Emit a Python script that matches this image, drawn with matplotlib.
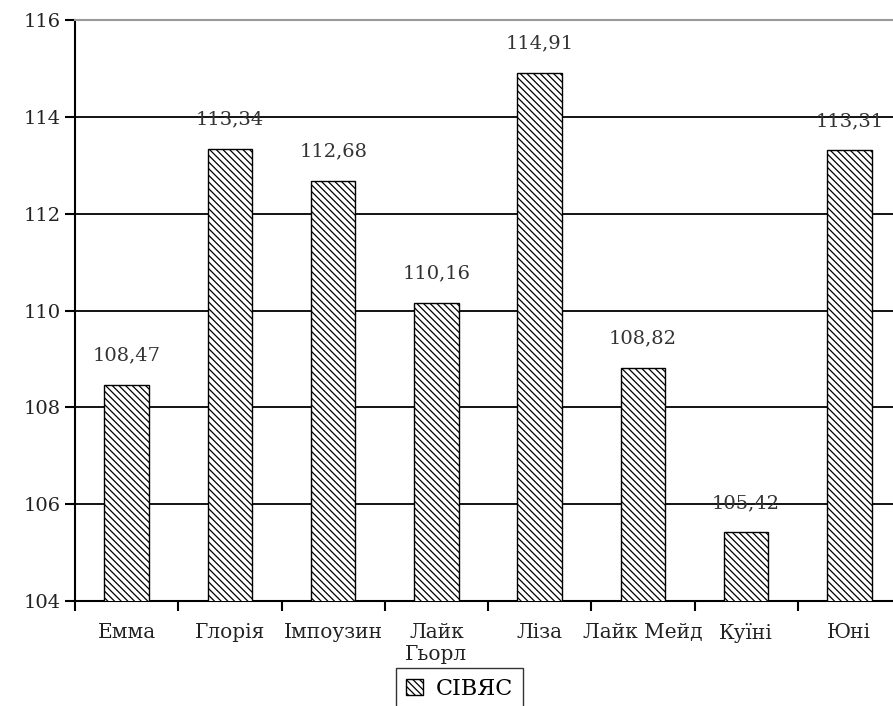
import matplotlib.pyplot as plt
import numpy as np

# chart data
categories = ["Емма", "Глорія", "Імпоузин", "Лайк\nГьорл", "Ліза",
              "Лайк Мейд", "Куїні", "Юні"]
values = [108.47, 113.34, 112.68, 110.16, 114.91, 108.82, 105.42, 113.31]
value_labels = ["108,47", "113,34", "112,68", "110,16", "114,91",
                "108,82", "105,42", "113,31"]
y_ticks = [104, 106, 108, 110, 112, 114, 116]
series_name = "СІВЯС"


def main():
    plt.rcParams['hatch.linewidth'] = 0.9
    fig = plt.figure(figsize=(8.93, 7.06), dpi=100)
    # axes runs past the right edge, as in the cropped original
    ax = fig.add_axes([75 / 893, 105 / 706, 826 / 893, 581 / 706])

    x = np.arange(len(categories))
    ax.bar(x, values, width=0.43, bottom=0, color='white',
           edgecolor='black', hatch='\\\\\\\\\\', linewidth=1.0,
           label=series_name, zorder=3)

    for xi, v, lab in zip(x, values, value_labels):
        ax.annotate(lab, (xi, v), xytext=(0, 21), textcoords='offset points',
                    ha='center', va='center', fontsize=14,
                    family='DejaVu Serif', color='#333333', zorder=4)

    ax.set_ylim(104, 116)
    ax.set_xlim(-0.5, len(categories) - 0.5)
    ax.set_yticks(y_ticks)
    ax.set_yticklabels([str(t) for t in y_ticks], family='DejaVu Serif',
                       fontsize=14, color='#222222')
    ax.set_xticks(x)
    ax.set_xticklabels(categories, family='DejaVu Serif', fontsize=14.5,
                       linespacing=1.2, color='#222222')
    ax.tick_params(axis='x', length=0, pad=16)
    ax.set_xticks(np.arange(-0.5, len(categories)), minor=True)
    ax.tick_params(axis='x', which='minor', length=7, width=1.5,
                   direction='out')
    ax.tick_params(axis='y', length=7, width=1.5, direction='out', pad=3)

    ax.grid(axis='y', color='black', linewidth=1.3, zorder=1)
    ax.set_axisbelow(True)
    for side in ['left', 'bottom']:
        ax.spines[side].set_linewidth(1.5)
    ax.spines['right'].set_visible(False)
    ax.spines['top'].set_color('#999999')
    ax.spines['top'].set_linewidth(1.5)

    leg = fig.legend(loc='upper left', bbox_to_anchor=(396 / 893, 38 / 706),
                     frameon=True, fancybox=False, edgecolor='black',
                     handlelength=0.75, handleheight=0.75, handletextpad=0.6,
                     borderpad=0.45, borderaxespad=0,
                     prop={'family': 'DejaVu Serif', 'size': 16})
    leg.get_frame().set_linewidth(1.0)

    fig.savefig("out.png", dpi=100)


if __name__ == "__main__":
    main()
